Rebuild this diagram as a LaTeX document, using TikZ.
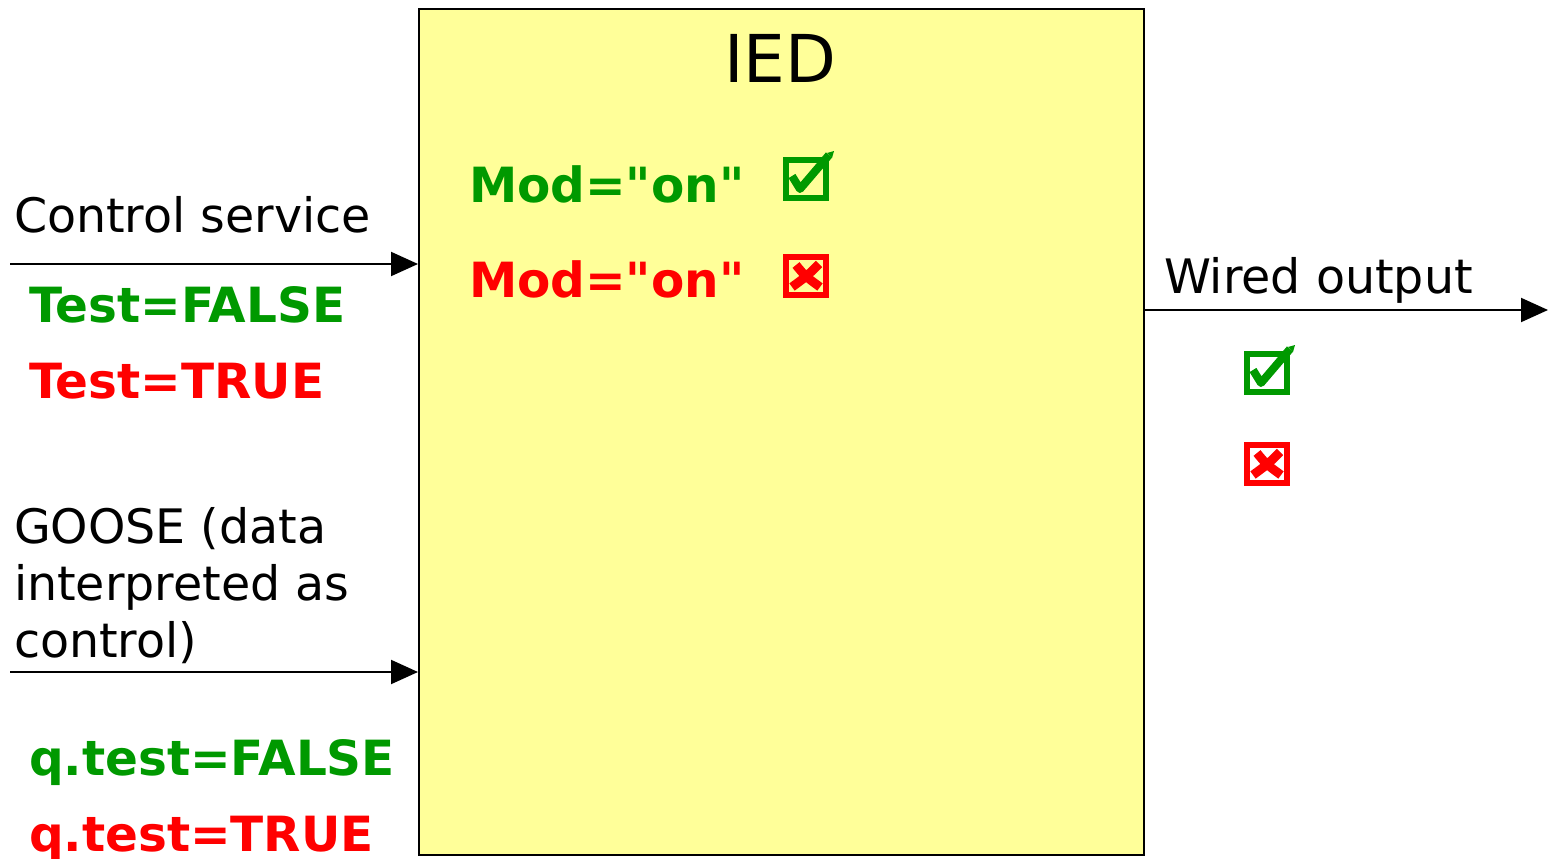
\documentclass[tikz,border=0pt]{standalone}
\usepackage{fontspec}
\setmainfont{DejaVu Sans}
\usetikzlibrary{positioning, arrows.meta}

\definecolor{okgreen}{HTML}{009900}
\definecolor{badred}{HTML}{FF0000}
\definecolor{iedyellow}{HTML}{FFFF99}

\tikzset{
	okbox/.pic = {
		\draw[okgreen,line width=5.5pt] (3,3) rectangle (43,41);
		\draw[okgreen,line width=8pt,line join=round] (9,19) -- (17,32) -- (46,-2);
		\fill[okgreen] (44,-4) -- (51,-6) -- (49,1) -- cycle;
	},
	nobox/.pic = {
		\draw[badred,line width=5.5pt] (3,3) rectangle (43,41);
		\draw[badred,line width=9pt] (13,11) .. controls (22,22) .. (37,33);
		\draw[badred,line width=9pt] (36,10) .. controls (24,22) .. (9,33);
	}
}

\begin{document}
\begin{tikzpicture}[x=1pt,y=-1pt,>={Triangle[length=27pt,width=24pt]},line width=2pt]
	\tikzstyle{lbl} = [inner sep=0pt,anchor=base west,font=\fontsize{47.5}{57}\selectfont]
	\tikzstyle{flag} = [lbl,font=\fontsize{48.5}{57}\selectfont\bfseries]
	\useasboundingbox (0,0) rectangle (1548,859);
	% the device
	\node[draw,fill=iedyellow,anchor=north west,inner sep=0pt,
		minimum width=725pt,minimum height=846pt] (ied) at (418,8) {};
	\node[anchor=base,font=\fontsize{66}{70}\selectfont] (title) at (780,82) {IED};
	\node[flag,text=okgreen]	(modok)		at (468,202)	{Mod=\textquotedbl on\textquotedbl};
	\node[flag,text=badred]		(modno)		at (468,297)	{Mod=\textquotedbl on\textquotedbl};
	\pic at (783,157) {okbox};
	\pic at (783,254) {nobox};
	% inputs
	\node[lbl]					(ctl)		at (13,232)		{Control service};
	\node[flag,text=okgreen]	(testf)		at (28,322)		{Test=FALSE};
	\node[flag,text=badred]		(testt)		at (28,398)		{Test=TRUE};
	\node[lbl,align=left]		(goose)		at (13,657)		{GOOSE (data\\interpreted as\\control)};
	\node[flag,text=okgreen]	(qtestf)	at (28,775)		{q.test=FALSE};
	\node[flag,text=badred]		(qtestt)	at (28,851)		{q.test=TRUE};
	\coordinate (ctlin) at (10,264);
	\coordinate (goosein) at (10,672);
	\draw[->] (ctlin) -- (ctlin -| ied.west);
	\draw[->] (goosein) -- (goosein -| ied.west);
	% output
	\node[lbl]					(wired)		at (1163,293)	{Wired output};
	\coordinate (wout) at (1548,310);
	\draw[->] (ied.east |- wout) -- (wout);
	\pic at (1244,351) {okbox};
	\pic at (1244,442) {nobox};
\end{tikzpicture}
\end{document}
